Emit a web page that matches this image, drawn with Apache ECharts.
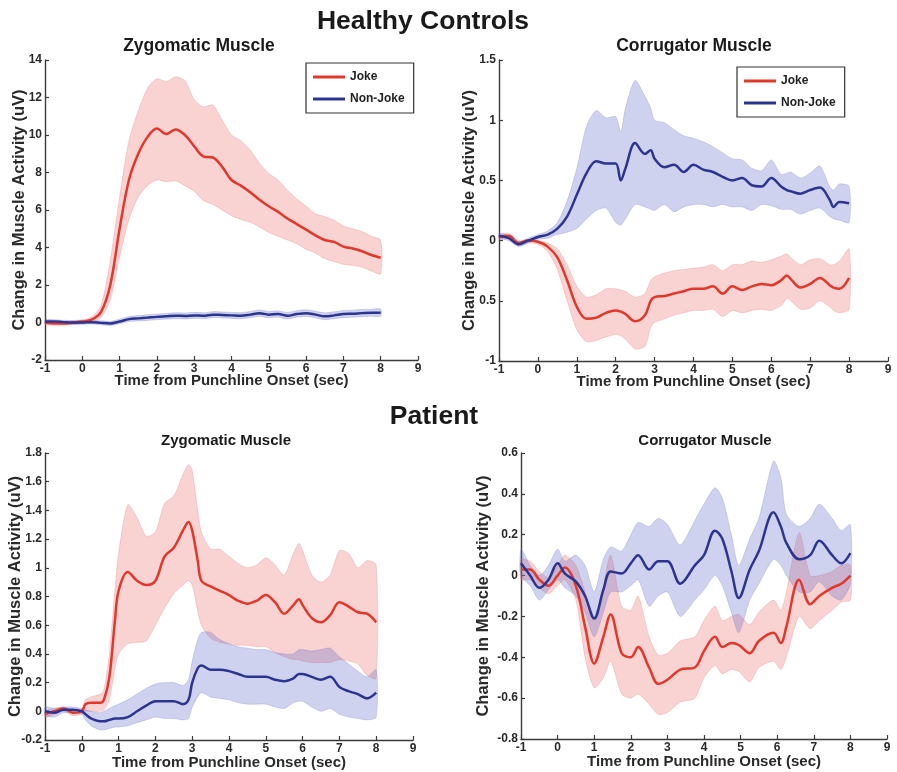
<!DOCTYPE html>
<html>
<head>
<meta charset="utf-8">
<script src="https://cdn.jsdelivr.net/npm/echarts@6/dist/echarts.min.js"></script>
<style>html,body{margin:0;padding:0;background:#fff}#c{width:897px;height:772px}</style>
</head>
<body>
<div id="c"></div>
<script>
// ---------- DATA ----------
const xTicks = [-1,0,1,2,3,4,5,6,7,8,9];

// Healthy Controls - Zygomatic
const hzT = [-1,-0.75,-0.5,-0.25,0,0.25,0.5,0.75,1,1.25,1.5,1.75,2,2.25,2.5,2.75,3,3.25,3.5,3.75,4,4.25,4.5,4.75,5,5.25,5.5,5.75,6,6.25,6.5,6.75,7,7.25,7.5,7.75,8];
const hzJoke   = [0,-0.05,-0.05,0,0.05,0.15,0.55,2.0,5.0,7.6,9.0,9.9,10.35,10.05,10.3,10.0,9.4,8.85,8.8,8.3,7.6,7.3,6.95,6.55,6.2,5.9,5.55,5.25,4.95,4.65,4.4,4.3,4.05,3.95,3.8,3.6,3.45];
const hzJokeHi = [0.1,0.05,0.05,0.1,0.15,0.3,0.9,3.3,6.7,9.7,11.3,12.5,13.0,12.85,13.1,12.9,11.9,11.5,11.6,10.8,10.0,9.7,9.2,8.5,7.95,7.6,7.05,6.6,6.2,5.8,5.65,5.45,5.15,5.0,4.85,4.6,4.4];
const hzJokeLo = [-0.1,-0.15,-0.15,-0.1,-0.05,0.05,0.25,1.2,3.5,5.5,6.7,7.3,7.6,7.5,7.55,7.3,7.0,6.5,6.3,6.0,5.7,5.5,5.35,5.1,4.8,4.6,4.4,4.2,3.9,3.7,3.4,3.25,3.1,3.05,2.95,2.75,2.6];
const hzNon    = [0.05,0.05,0.02,0,0,0.02,-0.02,-0.05,0.05,0.18,0.22,0.26,0.3,0.33,0.36,0.35,0.38,0.36,0.42,0.4,0.38,0.36,0.42,0.5,0.42,0.45,0.36,0.45,0.5,0.42,0.33,0.38,0.45,0.47,0.5,0.52,0.52];
const hzNonHi  = [0.15,0.15,0.12,0.1,0.1,0.12,0.09,0.07,0.18,0.32,0.37,0.41,0.45,0.48,0.52,0.51,0.54,0.52,0.58,0.56,0.54,0.53,0.59,0.67,0.59,0.62,0.54,0.63,0.68,0.6,0.52,0.57,0.64,0.66,0.69,0.71,0.72];
const hzNonLo  = [-0.05,-0.05,-0.08,-0.1,-0.1,-0.08,-0.12,-0.16,-0.07,0.05,0.08,0.11,0.15,0.18,0.2,0.19,0.22,0.2,0.26,0.24,0.22,0.2,0.25,0.33,0.25,0.28,0.19,0.28,0.32,0.24,0.15,0.2,0.26,0.28,0.31,0.33,0.33];

// Healthy Controls - Corrugator
const hcT = [-1,-0.75,-0.5,-0.25,0,0.25,0.5,0.75,1,1.25,1.5,1.75,2,2.13,2.25,2.5,2.75,2.9,3,3.25,3.5,3.75,4,4.25,4.5,4.75,5,5.25,5.5,5.75,6,6.25,6.4,6.5,6.75,7,7.25,7.5,7.6,7.75,8];
const hcJoke   = [0.03,0.04,-0.02,0,-0.01,-0.05,-0.14,-0.33,-0.55,-0.65,-0.64,-0.6,-0.58,-0.59,-0.61,-0.67,-0.62,-0.5,-0.47,-0.46,-0.44,-0.42,-0.4,-0.4,-0.38,-0.44,-0.38,-0.41,-0.38,-0.36,-0.37,-0.33,-0.29,-0.32,-0.39,-0.36,-0.31,-0.37,-0.39,-0.4,-0.31];
const hcJokeHi = [0.05,0.06,0,0.01,0,-0.02,-0.07,-0.2,-0.38,-0.47,-0.45,-0.4,-0.4,-0.41,-0.42,-0.47,-0.44,-0.33,-0.3,-0.27,-0.25,-0.24,-0.23,-0.22,-0.2,-0.25,-0.2,-0.2,-0.17,-0.18,-0.16,-0.13,-0.11,-0.14,-0.2,-0.16,-0.15,-0.2,-0.2,-0.17,-0.07];
const hcJokeLo = [0.01,0.02,-0.04,-0.02,-0.03,-0.09,-0.24,-0.5,-0.74,-0.84,-0.83,-0.8,-0.78,-0.79,-0.82,-0.9,-0.88,-0.72,-0.68,-0.65,-0.62,-0.6,-0.58,-0.58,-0.57,-0.63,-0.58,-0.6,-0.58,-0.57,-0.58,-0.54,-0.48,-0.5,-0.57,-0.56,-0.5,-0.55,-0.58,-0.6,-0.57];
const hcNon    = [0.04,0.02,-0.03,0,0.03,0.05,0.1,0.2,0.38,0.56,0.66,0.64,0.64,0.5,0.6,0.81,0.72,0.75,0.68,0.61,0.63,0.57,0.63,0.59,0.57,0.53,0.5,0.52,0.46,0.45,0.52,0.45,0.42,0.41,0.39,0.42,0.44,0.34,0.28,0.32,0.31];
const hcNonHi  = [0.06,0.04,-0.01,0.02,0.05,0.08,0.15,0.33,0.6,0.95,1.08,1.02,1.03,0.9,1.1,1.33,1.2,1.1,1.0,0.98,0.92,0.87,0.85,0.82,0.78,0.73,0.68,0.67,0.6,0.58,0.67,0.55,0.56,0.57,0.52,0.56,0.62,0.45,0.42,0.47,0.45];
const hcNonLo  = [0.02,0,-0.05,-0.02,0.01,0.02,0.05,0.07,0.1,0.18,0.25,0.27,0.15,0.13,0.18,0.3,0.28,0.26,0.25,0.3,0.24,0.28,0.3,0.3,0.28,0.3,0.28,0.28,0.25,0.3,0.29,0.26,0.26,0.26,0.22,0.25,0.27,0.2,0.18,0.17,0.15];

// Patient - Zygomatic
const pzT = [-1,-0.75,-0.5,-0.25,0,0.1,0.25,0.5,0.6,0.75,0.9,1,1.25,1.5,1.75,2,2.25,2.5,2.75,2.9,3,3.15,3.25,3.5,3.75,4,4.25,4.5,4.75,5,5.25,5.5,5.75,5.9,6,6.25,6.5,6.75,7,7.25,7.5,7.75,8];
const pzJoke   = [-0.02,0,0.02,-0.01,0,0.05,0.06,0.06,0.08,0.24,0.63,0.84,0.97,0.91,0.88,0.91,1.08,1.14,1.26,1.32,1.26,1.05,0.91,0.87,0.84,0.81,0.77,0.75,0.77,0.81,0.76,0.68,0.74,0.78,0.74,0.65,0.62,0.67,0.76,0.73,0.69,0.68,0.62];
const pzJokeHi = [0,0.02,0.03,0.01,0.02,0.08,0.1,0.12,0.15,0.4,0.85,1.1,1.44,1.35,1.22,1.25,1.45,1.5,1.65,1.72,1.68,1.4,1.25,1.13,1.13,1.08,1.03,1.0,1.02,1.07,1.02,0.95,1.1,1.17,1.12,0.95,0.9,0.95,1.12,1.1,1.0,1.05,1.02];
const pzJokeLo = [-0.04,-0.02,0,-0.03,-0.02,0,0,0,0.01,0.08,0.3,0.4,0.47,0.48,0.49,0.6,0.72,0.82,0.88,0.91,0.88,0.7,0.6,0.51,0.48,0.47,0.46,0.46,0.45,0.45,0.41,0.38,0.36,0.36,0.35,0.34,0.34,0.34,0.36,0.35,0.33,0.25,0.23];
const pzNon    = [0,-0.01,0.01,0.01,0,-0.02,-0.05,-0.07,-0.07,-0.06,-0.05,-0.05,-0.04,0,0.04,0.07,0.07,0.07,0.05,0.08,0.2,0.3,0.32,0.29,0.29,0.28,0.26,0.24,0.24,0.24,0.22,0.21,0.23,0.26,0.26,0.24,0.22,0.24,0.17,0.14,0.12,0.09,0.13];
const pzNonHi  = [0.03,0.02,0.03,0.03,0.02,0.01,0,-0.01,0,0.02,0.04,0.05,0.08,0.12,0.16,0.19,0.2,0.2,0.18,0.22,0.35,0.5,0.55,0.55,0.5,0.47,0.45,0.44,0.43,0.43,0.41,0.4,0.4,0.43,0.43,0.42,0.43,0.44,0.38,0.33,0.28,0.24,0.29];
const pzNonLo  = [-0.03,-0.04,-0.01,-0.01,-0.02,-0.06,-0.1,-0.13,-0.13,-0.12,-0.11,-0.11,-0.1,-0.08,-0.06,-0.04,-0.05,-0.05,-0.06,-0.05,0.03,0.1,0.13,0.1,0.09,0.08,0.06,0.05,0.05,0.05,0.03,0.02,0.06,0.07,0.07,0.03,0,0.02,-0.02,-0.04,-0.05,-0.06,-0.04];

// Patient - Corrugator
const pcT = [-1,-0.75,-0.5,-0.25,0,0.2,0.5,0.75,1,1.25,1.45,1.75,2,2.2,2.5,2.75,3,3.35,3.75,4,4.3,4.5,4.75,4.95,5.25,5.5,5.9,6.1,6.25,6.6,6.9,7.15,7.5,7.75,8];
const pcJoke   = [0.03,0.03,-0.02,-0.05,0,0.04,-0.05,-0.25,-0.43,-0.3,-0.19,-0.38,-0.4,-0.35,-0.45,-0.53,-0.51,-0.46,-0.45,-0.37,-0.3,-0.35,-0.33,-0.34,-0.38,-0.32,-0.28,-0.33,-0.25,-0.02,-0.14,-0.1,-0.06,-0.04,0];
const pcJokeHi = [0.08,0.07,0.02,-0.01,0.05,0.1,0.05,-0.08,-0.22,-0.05,0.1,-0.15,-0.17,-0.1,-0.3,-0.39,-0.38,-0.32,-0.3,-0.22,-0.15,-0.22,-0.2,-0.19,-0.24,-0.18,-0.12,-0.17,-0.08,0.21,0,0,0.02,0.05,0.05];
const pcJokeLo = [-0.02,-0.02,-0.06,-0.09,-0.05,-0.02,-0.12,-0.4,-0.55,-0.5,-0.42,-0.58,-0.6,-0.58,-0.63,-0.68,-0.67,-0.62,-0.6,-0.5,-0.44,-0.48,-0.46,-0.47,-0.52,-0.45,-0.42,-0.46,-0.4,-0.2,-0.26,-0.22,-0.17,-0.13,-0.12];
const pcNon    = [0.06,0,-0.06,-0.02,0.06,0.01,-0.03,-0.1,-0.21,-0.07,0.02,0.01,0.06,0.1,0.03,0.07,0.07,-0.04,0.05,0.1,0.22,0.18,0.02,-0.11,0.03,0.12,0.31,0.24,0.16,0.08,0.1,0.17,0.1,0.06,0.11];
const pcNonHi  = [0.13,0.05,0,0.05,0.13,0.07,0.1,0.05,-0.08,0.08,0.14,0.12,0.2,0.26,0.24,0.28,0.25,0.15,0.27,0.35,0.43,0.38,0.2,0.05,0.18,0.28,0.56,0.48,0.3,0.24,0.28,0.35,0.28,0.22,0.25];
const pcNonLo  = [0,-0.05,-0.12,-0.07,-0.02,-0.06,-0.1,-0.18,-0.3,-0.18,-0.08,-0.08,-0.05,-0.02,-0.15,-0.1,-0.08,-0.2,-0.12,-0.07,0,-0.05,-0.18,-0.28,-0.12,-0.04,0.08,0.05,0,-0.08,-0.08,-0.03,-0.1,-0.12,-0.04];

// tick labels for healthy corrugator (as printed in the reference)
const hcYLabels = {'-1':'-1','-0.5':'0.5','0':'0','0.5':'0.5','1':'1','1.5':'1.5'};

// ---------- CHART ----------
const FONT = 'Liberation Sans, Arial, sans-serif';
const RED = '#E2372B', BLUE = '#2B3590';
const RED_BAND = 'rgba(235,95,95,0.28)', BLUE_BAND = 'rgba(95,105,200,0.30)';

const panels = [
  {T:hzT, J:hzJoke, JH:hzJokeHi, JL:hzJokeLo, N:hzNon, NH:hzNonHi, NL:hzNonLo,
   grid:{left:45, top:60, width:373, height:300}, y:{min:-2,max:14,interval:2}, yGap:17, xGap:13},
  {T:hcT, J:hcJoke, JH:hcJokeHi, JL:hcJokeLo, N:hcNon, NH:hcNonHi, NL:hcNonLo,
   grid:{left:499, top:60, width:389, height:301}, y:{min:-1,max:1.5,interval:0.5}, yGap:21, xGap:13, labels:hcYLabels},
  {T:pzT, J:pzJoke, JH:pzJokeHi, JL:pzJokeLo, N:pzNon, NH:pzNonHi, NL:pzNonLo,
   grid:{left:45, top:453, width:368, height:287}, y:{min:-0.2,max:1.8,interval:0.2}, yGap:21, xGap:15},
  {T:pcT, J:pcJoke, JH:pcJokeHi, JL:pcJokeLo, N:pcNon, NH:pcNonHi, NL:pcNonLo,
   grid:{left:521, top:453, width:366, height:286}, y:{min:-0.8,max:0.6,interval:0.2}, yGap:29, xGap:15}
];

const axisLine = {show:true, onZero:false, lineStyle:{color:'#3a3a3a', width:1.4}};
const axisTick = {show:true, inside:true, length:4, lineStyle:{color:'#3a3a3a', width:1.2}};
const labelStyle = {color:'#2a2a2a', fontFamily:FONT, fontWeight:'bold', fontSize:12};
const xNameStyle = {color:'#2a2a2a', fontFamily:FONT, fontWeight:'bold', fontSize:15};
const yNameStyle = {color:'#2a2a2a', fontFamily:FONT, fontWeight:'bold', fontSize:16.5};

const grids = [], xAxes = [], yAxes = [], series = [];
panels.forEach((p, i) => {
  grids.push(Object.assign({containLabel:false}, p.grid));
  xAxes.push({type:'value', gridIndex:i, min:-1, max:9, interval:1,
    axisLine, axisTick, splitLine:{show:false},
    axisLabel:Object.assign({margin:3, showMaxLabel:true, showMinLabel:true}, labelStyle),
    name:'Time from Punchline Onset (sec)', nameLocation:'middle', nameGap:p.xGap,
    nameMoveOverlap:false, nameTextStyle:xNameStyle});
  yAxes.push({type:'value', gridIndex:i, min:p.y.min, max:p.y.max, interval:p.y.interval,
    axisLine, axisTick, splitLine:{show:false},
    axisLabel:Object.assign({margin:3, formatter: v => {
      const s = String(+v.toFixed(2));
      return p.labels ? (p.labels[s] !== undefined ? p.labels[s] : s) : s;
    }}, labelStyle),
    name:'Change in Muscle Activity (uV)', nameLocation:'middle', nameGap:p.yGap,
    nameMoveOverlap:false, nameTextStyle:yNameStyle});

  const band = (T, H, L, fill, stroke) => ({
    type:'custom', xAxisIndex:i, yAxisIndex:i, silent:true, z:1,
    data:[[T[0], L[0]]],
    renderItem:(params, api) => {
      const pts = [];
      for (let k = 0; k < T.length; k++) pts.push(api.coord([T[k], H[k]]));
      for (let k = T.length - 1; k >= 0; k--) pts.push(api.coord([T[k], L[k]]));
      return {type:'polygon', shape:{points:pts, smooth:0.25}, style:{fill, stroke, lineWidth:0.8}};
    }
  });
  series.push(band(p.T, p.JH, p.JL, RED_BAND, 'rgba(230,120,120,0.35)'));
  series.push(band(p.T, p.NH, p.NL, BLUE_BAND, 'rgba(120,125,200,0.35)'));
  const line = (name, T, V, color) => ({
    type:'line', name, xAxisIndex:i, yAxisIndex:i, z:3,
    data:T.map((t,k)=>[t, V[k]]), smooth:0.35, showSymbol:false, symbol:'none',
    lineStyle:{color, width:2.5}, itemStyle:{color}, emphasis:{disabled:true}
  });
  series.push(line('Joke', p.T, p.J, RED));
  series.push(line('Non-Joke', p.T, p.N, BLUE));
});

const legendCommon = {
  orient:'vertical', data:['Joke','Non-Joke'], icon:'rect', itemWidth:32, itemHeight:3, itemGap:10,
  backgroundColor:'#fff', borderColor:'#333', borderWidth:1.2, borderRadius:0, padding:[8,9,8,7],
  textStyle:{color:'#222', fontFamily:FONT, fontWeight:'bold', fontSize:12}, selectedMode:false
};

const txt = (x, y, text, size) => ({type:'text', x, y, silent:true, z:10,
  style:{text, x:0, y:0, align:'center', verticalAlign:'middle', fill:'#1a1a1a',
    font:'bold ' + size + 'px ' + FONT}});

const chart = echarts.init(document.getElementById('c'), null, {renderer:'canvas'});
chart.setOption({
  animation:false,
  backgroundColor:'#fff',
  grid:grids, xAxis:xAxes, yAxis:yAxes, series,
  legend:[
    Object.assign({left:306, top:63}, legendCommon),
    Object.assign({left:737, top:67}, legendCommon)
  ],
  graphic:[
    txt(423, 22, 'Healthy Controls', 26.5),
    txt(199, 46, 'Zygomatic Muscle', 17.5),
    txt(694, 46, 'Corrugator Muscle', 17.5),
    txt(434, 417, 'Patient', 26.5),
    txt(226, 441, 'Zygomatic Muscle', 15),
    txt(705, 441, 'Corrugator Muscle', 15)
  ]
});
</script>
</body>
</html>
